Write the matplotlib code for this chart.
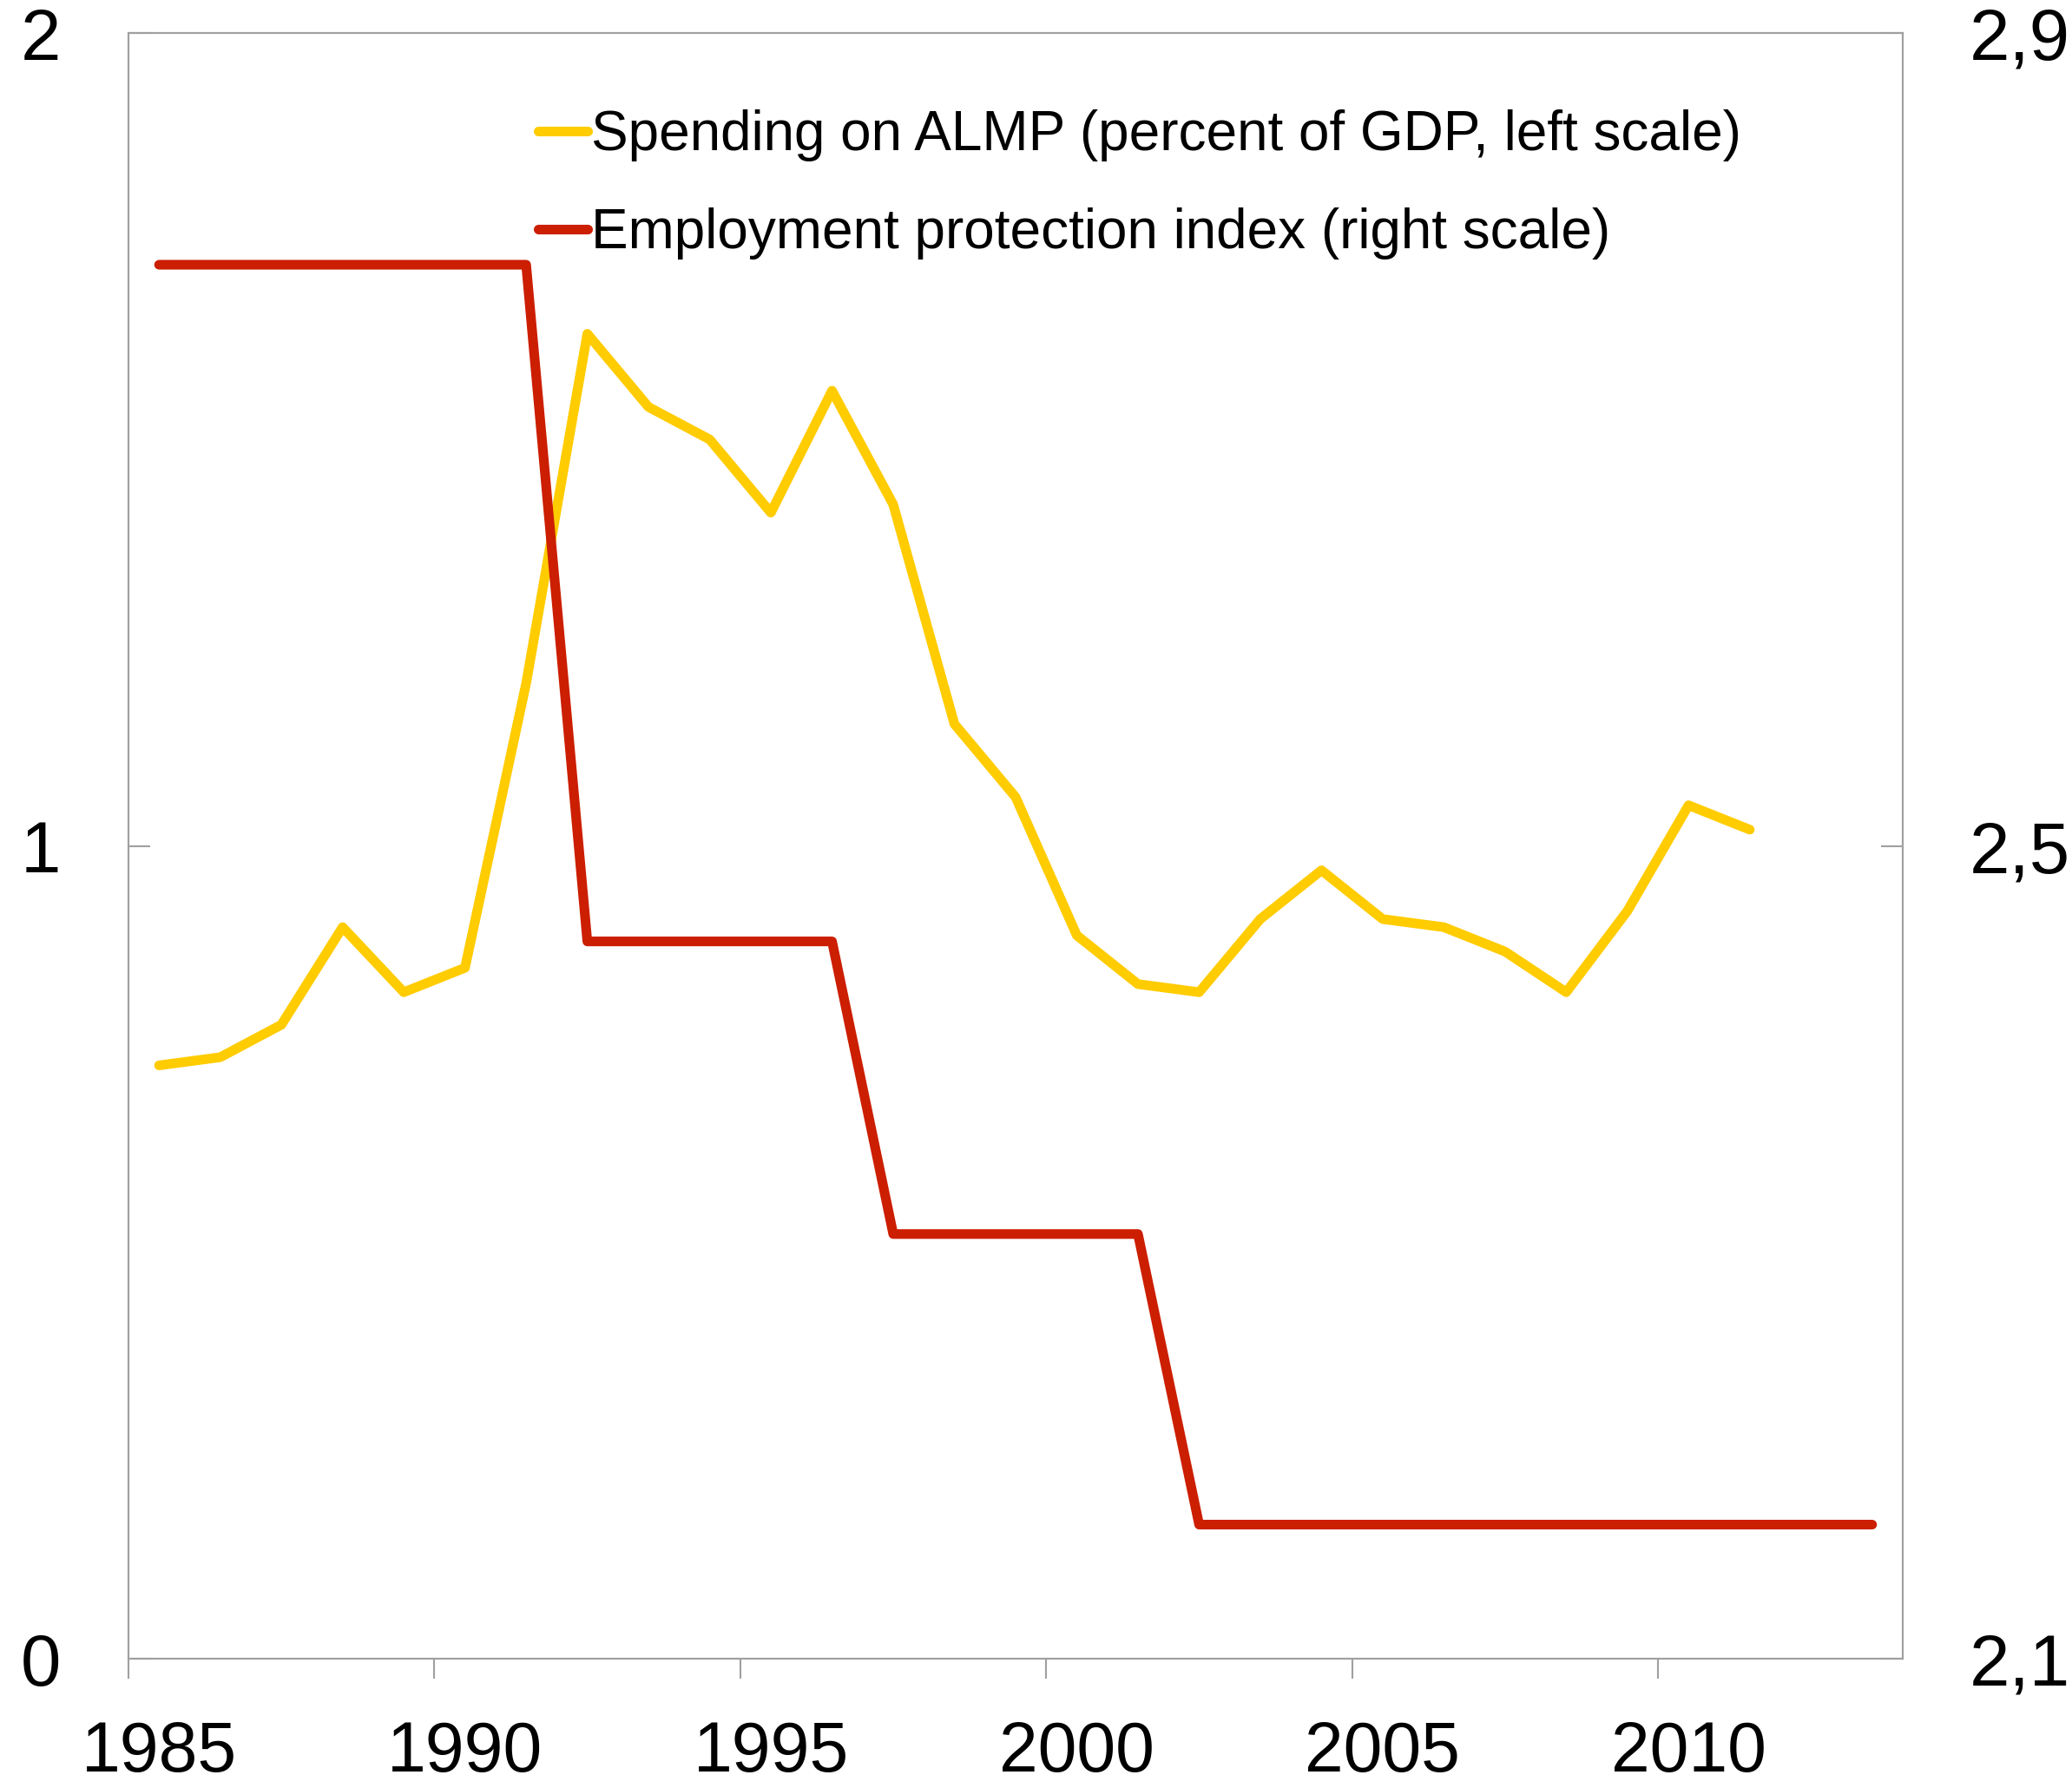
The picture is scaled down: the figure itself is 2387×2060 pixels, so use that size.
import matplotlib
matplotlib.use("Agg")
import matplotlib.pyplot as plt
from matplotlib.ticker import FixedLocator, FixedFormatter, NullFormatter

plt.rcParams['font.family'] = ['Liberation Sans', 'DejaVu Sans']

# Annual observations, plotted at mid-year
almp_years = list(range(1985, 2012))
almp_spending = [0.73, 0.74, 0.78, 0.90, 0.82, 0.85, 1.20, 1.63, 1.54, 1.50,
                 1.41, 1.56, 1.42, 1.15, 1.06, 0.89, 0.83, 0.82, 0.91, 0.97,
                 0.91, 0.90, 0.87, 0.82, 0.92, 1.05, 1.02]

epl_years = list(range(1985, 2014))
epl_index = [2.786] * 7 + [2.453] * 5 + [2.309] * 5 + [2.166] * 12

year_ticks = [1985, 1990, 1995, 2000, 2005, 2010]
year_labels = ['1985', '1990', '1995', '2000', '2005', '2010']
left_ticks = [0, 1, 2]
left_labels = ['0', '1', '2']
right_ticks = [2.1, 2.5, 2.9]
right_labels = ['2,1', '2,5', '2,9']

label_almp = 'Spending on ALMP (percent of GDP, left scale)'
label_epl = 'Employment protection index (right scale)'

yellow = '#FFCC00'
red = '#CC1E00'
spine_grey = '#A0A0A0'

fig = plt.figure(figsize=(23.87, 20.60), dpi=100)
ax = fig.add_axes([0.0620, 0.0723, 0.8563, 0.9092])
ax2 = ax.twinx()

l1, = ax.plot([y + 0.5 for y in almp_years], almp_spending, color=yellow,
              lw=8, solid_capstyle='round', solid_joinstyle='round', label=label_almp)
l2, = ax2.plot([y + 0.5 for y in epl_years], epl_index, color=red,
               lw=8, solid_capstyle='round', solid_joinstyle='round', label=label_epl)

ax.set_xlim(1985, 2014)
ax.set_ylim(0, 2)
ax2.set_ylim(2.1, 2.9)

for a in (ax, ax2):
    for s in a.spines.values():
        s.set_color(spine_grey)
        s.set_linewidth(1.5)

# x: tick marks at year boundaries, labels centred on the year
ax.xaxis.set_major_locator(FixedLocator(year_ticks))
ax.xaxis.set_major_formatter(NullFormatter())
ax.xaxis.set_minor_locator(FixedLocator([y + 0.5 for y in year_ticks]))
ax.xaxis.set_minor_formatter(FixedFormatter(year_labels))
ax.tick_params(axis='x', which='major', direction='out', length=16.5, width=1.5,
               color=spine_grey)
ax.tick_params(axis='x', which='minor', length=0, pad=51, labelsize=58)

ax.set_yticks(left_ticks)
ax.set_yticklabels(left_labels)
ax.tick_params(axis='y', direction='in', length=18, width=1.5, color=spine_grey,
               pad=56, labelsize=60)

ax2.set_yticks(right_ticks)
ax2.set_yticklabels(right_labels)
ax2.tick_params(axis='y', direction='in', length=18, width=1.5, color=spine_grey,
                pad=55, labelsize=60)

leg = ax2.legend(handles=[l1, l2], loc='upper left',
                 bbox_to_anchor=(0.2597, 0.9387), bbox_transform=fig.transFigure,
                 frameon=False, fontsize=46, handlelength=0.9,
                 handletextpad=0.05, labelspacing=0.83, borderpad=0,
                 borderaxespad=0)

fig.savefig('out.png', dpi=100, facecolor='white')
